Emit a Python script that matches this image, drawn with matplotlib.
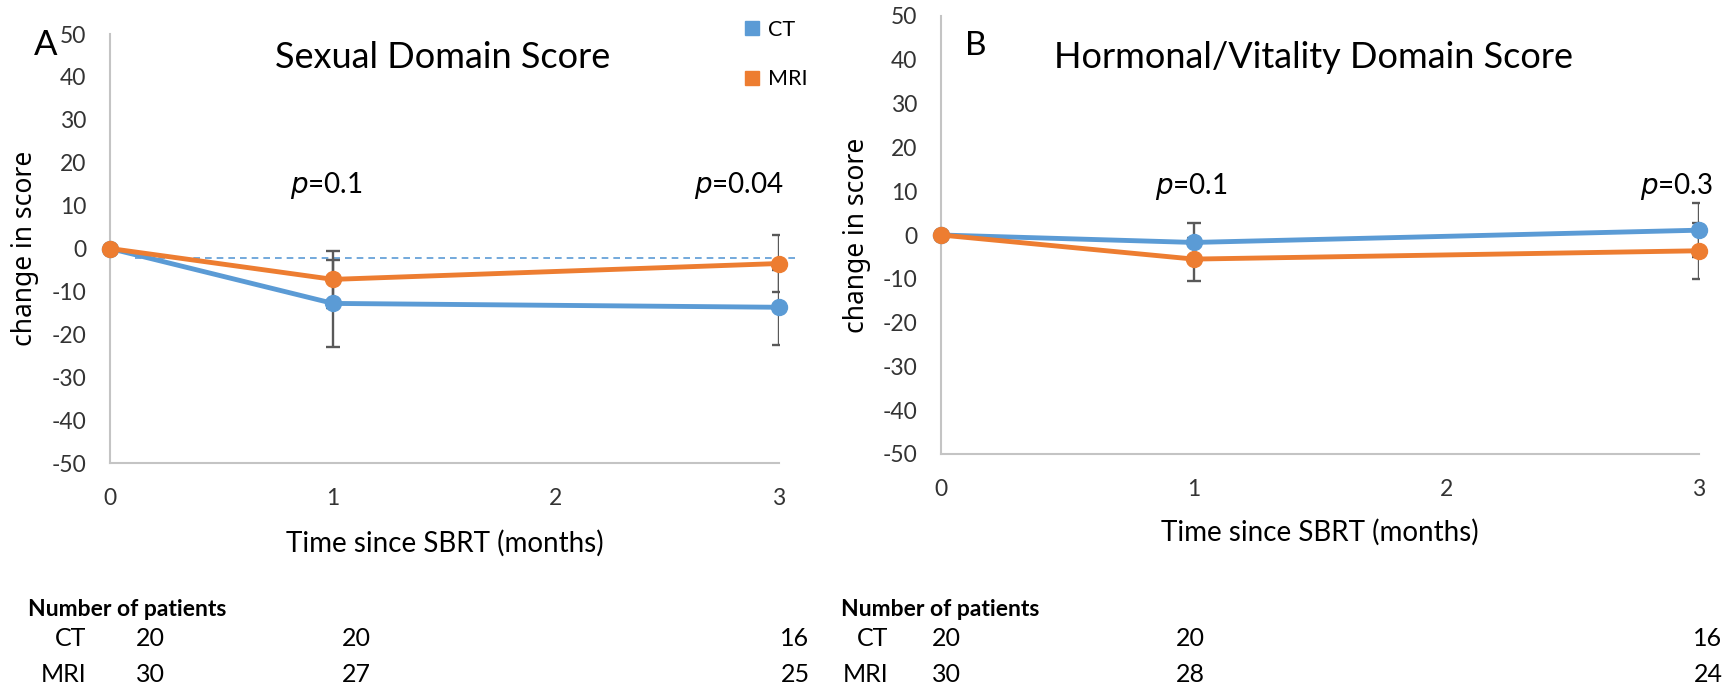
import matplotlib.pyplot as plt
from matplotlib.lines import Line2D

plt.rcParams['font.family'] = ['Lato', 'DejaVu Sans']
plt.rcParams['axes.unicode_minus'] = False

# data
months = [0, 1, 3]

ct_sexual = [0, -12.8, -13.7]
ct_sexual_err = [0, 10.1, 8.8]
mri_sexual = [0, -7.2, -3.5]
mri_sexual_err = [0, 6.6, 6.7]
ref_line_y = -2.2
ref_line_x = [0.11, 3.07]

ct_horm = [0, -1.7, 1.1]
ct_horm_err = [0, 4.5, 6.1]
mri_horm = [0, -5.5, -3.6]
mri_horm_err = [0, 4.9, 6.4]

p_sexual = ['0.1', '0.04']
p_horm = ['0.1', '0.3']
p_x = [1, 3]

ct_n_sexual = [20, 20, 16]
mri_n_sexual = [30, 27, 25]
ct_n_horm = [20, 20, 16]
mri_n_horm = [30, 28, 24]

BLUE = '#5B9BD5'
ORANGE = '#ED7D31'
ERR = '#595959'
AXIS = '#C4C4C4'

W, H = 1730, 690
fig = plt.figure(figsize=(W / 100, H / 100), dpi=100)


def px(x, y):
    return x / W, 1 - y / H


def panel(rect, ct, ct_err, mri, mri_err, p_vals, p_pos, xlab_y, ylab_x):
    ax = fig.add_axes(rect)
    for vals, err, col in [(ct, ct_err, BLUE), (mri, mri_err, ORANGE)]:
        xs = [m for m, e in zip(months, err) if e > 0]
        ys = [v for v, e in zip(vals, err) if e > 0]
        es = [e for e in err if e > 0]
        ax.errorbar(xs, ys, yerr=es, fmt='none', ecolor=ERR, elinewidth=1.7,
                    capsize=4.8, capthick=1.7, zorder=2)
    for vals, col in [(ct, BLUE), (mri, ORANGE)]:
        ax.plot(months, vals, color=col, lw=3.5, marker='o', ms=11.5,
                clip_on=False, zorder=3)
    ax.set_xlim(0, 3)
    ax.set_ylim(-50, 50)
    ax.set_xticks([0, 1, 2, 3])
    ax.set_yticks(range(-50, 51, 10))
    for s in ['top', 'right']:
        ax.spines[s].set_visible(False)
    for s in ['left', 'bottom']:
        ax.spines[s].set_color(AXIS)
        ax.spines[s].set_linewidth(1.5)
    ax.tick_params(axis='y', length=0, pad=17, labelsize=16.5, labelcolor='#333333')
    ax.tick_params(axis='x', length=0, pad=18, labelsize=16.5, labelcolor='#333333')
    ax.set_xlabel('Time since SBRT (months)', fontsize=20)
    ax.xaxis.label.set_va('center')
    ax.xaxis.set_label_coords(0.5, xlab_y)
    ax.set_ylabel('change in score', fontsize=19, family=['Noto Sans', 'DejaVu Sans'])
    ax.yaxis.label.set_va('center')
    ax.yaxis.set_label_coords(ylab_x, 0.5)
    for (xp, yp), pv in zip(p_pos, p_vals):
        ax.text(xp, yp, r'$\it{p}$' + '=' + pv, fontsize=20, ha='center', va='center')
    return ax


axA = panel([110 / W, 1 - 463 / H, 669 / W, 429 / H],
            ct_sexual, ct_sexual_err, mri_sexual, mri_sexual_err,
            p_sexual, [(0.97, 14.6), (2.82, 14.6)], (463 - 543) / 429, -0.127)
axA.plot(ref_line_x, [ref_line_y, ref_line_y], color=BLUE, lw=1.2,
         ls=(0, (4, 3)), clip_on=False, zorder=1)

axB = panel([941 / W, 1 - 454 / H, 758 / W, 438 / H],
            ct_horm, ct_horm_err, mri_horm, mri_horm_err,
            p_horm, [(0.99, 11), (2.91, 11)], (454 - 532) / 438, -0.111)

handles = [Line2D([], [], ls='', marker='s', ms=10.5, color=BLUE),
           Line2D([], [], ls='', marker='s', ms=10.5, color=ORANGE)]
fig.legend(handles, ['CT', 'MRI'], loc='upper left', bbox_to_anchor=px(741, 20),
           frameon=False, fontsize=15.5, handlelength=1.0, handletextpad=0.25,
           labelspacing=1.35, borderpad=0, borderaxespad=0)

fig.text(*px(443, 57), 'Sexual Domain Score', fontsize=26, ha='center', va='center')
fig.text(*px(1314, 57), 'Hormonal/Vitality Domain Score', fontsize=26, ha='center', va='center')
fig.text(*px(46, 45), 'A', fontsize=25, ha='center', va='center')
fig.text(*px(976, 46), 'B', fontsize=24, ha='center', va='center')

# patient counts under each panel
tables = [
    (28, 86, [150, 356, 795], ct_n_sexual, mri_n_sexual),
    (841, 888, [946, 1190, 1708], ct_n_horm, mri_n_horm),
]
for head_x, lab_x, cols, ct_n, mri_n in tables:
    fig.text(*px(head_x, 609), 'Number of patients', fontsize=16.5, fontweight='bold',
             ha='left', va='center')
    for row_y, name, counts in [(638, 'CT', ct_n), (674, 'MRI', mri_n)]:
        fig.text(*px(lab_x, row_y), name, fontsize=18, ha='right', va='center')
        for cx, n in zip(cols, counts):
            fig.text(*px(cx, row_y), str(n), fontsize=18, ha='center', va='center')

fig.savefig('out.png', dpi=100)
